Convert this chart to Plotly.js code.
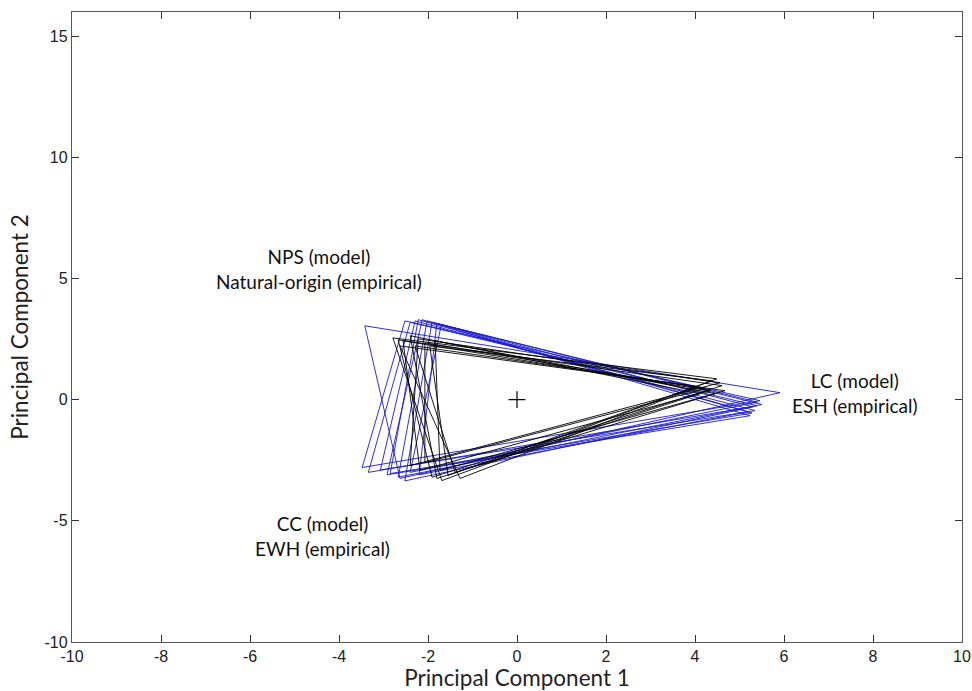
<!DOCTYPE html>
<html>
<head>
<meta charset="utf-8">
<script src="https://cdn.plot.ly/plotly-3.0.1.min.js"></script>
<style>
  html, body { margin: 0; padding: 0; background: #fff; }
  #chart { width: 972px; height: 691px; }
</style>
</head>
<body>
<div id="chart"></div>
<script>
// Empirical triangles (blue): upper-left, right and lower-left vertices
const empUpperX = [-3.42, -2.52, -2.40, -2.29, -2.13, -2.02, -1.91, -1.80, -1.70, -2.22];
const empUpperY = [ 3.05,  3.25,  3.20,  3.25,  3.30,  3.25,  3.20,  3.15,  3.10,  3.30];
const empRightX = [ 5.91,  5.46,  5.39,  5.35,  5.24,  5.50,  5.30,  5.20,  5.40,  5.28];
const empRightY = [ 0.29, -0.04, -0.25, -0.45, -0.66, -0.20, -0.30, -0.50, -0.10, -0.55];
const empLowerX = [-2.63, -3.48, -3.34, -3.07, -2.92, -2.67, -2.52, -2.20, -2.40, -2.85];
const empLowerY = [-3.25, -2.80, -3.00, -2.90, -3.10, -3.20, -3.35, -3.10, -3.00, -3.05];

// Model triangles (black): upper-left, right and lower-left vertices
const modUpperX = [-2.79, -2.67, -2.56, -2.40, -2.22, -2.07, -1.96, -2.29, -2.63, -1.84];
const modUpperY = [ 2.55,  2.47,  2.43,  2.64,  2.51,  2.35,  2.22,  2.22,  2.22,  2.43];
const modRightX = [ 4.49,  4.61,  4.34,  4.11,  4.56,  4.22,  4.38,  4.67,  4.07,  4.45];
const modRightY = [ 0.86,  0.58,  0.37,  0.25,  0.70,  0.45,  0.78,  0.37,  0.54,  0.25];
const modLowerX = [-1.69, -1.91, -2.18, -1.80, -2.40, -2.07, -1.55, -1.39, -1.28, -1.73];
const modLowerY = [-3.34, -3.20, -2.92, -3.25, -2.72, -2.60, -3.13, -3.00, -3.25, -2.92];

// Corner labels
const labelX = [-4.45, 7.6, -4.36];
const labelY = [5.41, 0.26, -5.63];
const labelText = [
  'NPS (model)<br>Natural-origin (empirical)',
  'LC (model)<br>ESH (empirical)',
  'CC (model)<br>EWH (empirical)'
];

const xTicks = [-10, -8, -6, -4, -2, 0, 2, 4, 6, 8, 10];
const yTicks = [-10, -5, 0, 5, 10, 15];

function triangleTraces(ux, uy, rx, ry, lx, ly, color) {
  return ux.map((_, i) => ({
    type: 'scatter',
    mode: 'lines',
    x: [ux[i], rx[i], lx[i], ux[i]],
    y: [uy[i], ry[i], ly[i], uy[i]],
    line: { color: color, width: 0.9 },
    hoverinfo: 'skip',
    showlegend: false
  }));
}

const traces = []
  .concat(triangleTraces(empUpperX, empUpperY, empRightX, empRightY, empLowerX, empLowerY, 'rgb(25,25,205)'))
  .concat(triangleTraces(modUpperX, modUpperY, modRightX, modRightY, modLowerX, modLowerY, 'rgb(0,0,0)'));

// centre marker
traces.push({
  type: 'scatter',
  mode: 'markers',
  x: [0],
  y: [0],
  marker: { symbol: 'cross-thin-open', size: 12, color: '#000', line: { color: '#000', width: 1.2 } },
  showlegend: false,
  hoverinfo: 'skip'
});

const axisCommon = {
  showgrid: false,
  zeroline: false,
  showline: true,
  mirror: 'ticks',
  linecolor: '#555',
  linewidth: 1.2,
  ticks: 'inside',
  ticklen: 7,
  tickwidth: 1,
  tickcolor: '#333',
  tickfont: { family: 'Liberation Sans, Arial, sans-serif', size: 16, color: '#222' }
};

const titleFont = { family: 'Lato, sans-serif', size: 22.5, color: '#222' };

const layout = {
  width: 972,
  height: 691,
  margin: { l: 72, r: 10, t: 12, b: 49 },
  paper_bgcolor: '#fff',
  plot_bgcolor: '#fff',
  showlegend: false,
  xaxis: Object.assign({}, axisCommon, {
    range: [-10, 10],
    tickvals: xTicks,
    ticktext: xTicks.map(String),
    title: { text: 'Principal Component 1', font: titleFont, standoff: 9 }
  }),
  yaxis: Object.assign({}, axisCommon, {
    range: [-10, 16],
    tickvals: yTicks,
    ticktext: yTicks.map(String),
    title: { text: 'Principal Component 2', font: titleFont, standoff: 9 }
  }),
  annotations: labelText.map((t, i) => ({
    x: labelX[i],
    y: labelY[i],
    xref: 'x',
    yref: 'y',
    text: t,
    showarrow: false,
    align: 'center',
    font: { family: 'Lato, sans-serif', size: 19, color: '#111' }
  }))
};

Plotly.newPlot('chart', traces, layout, { staticPlot: true, displayModeBar: false });
</script>
</body>
</html>
